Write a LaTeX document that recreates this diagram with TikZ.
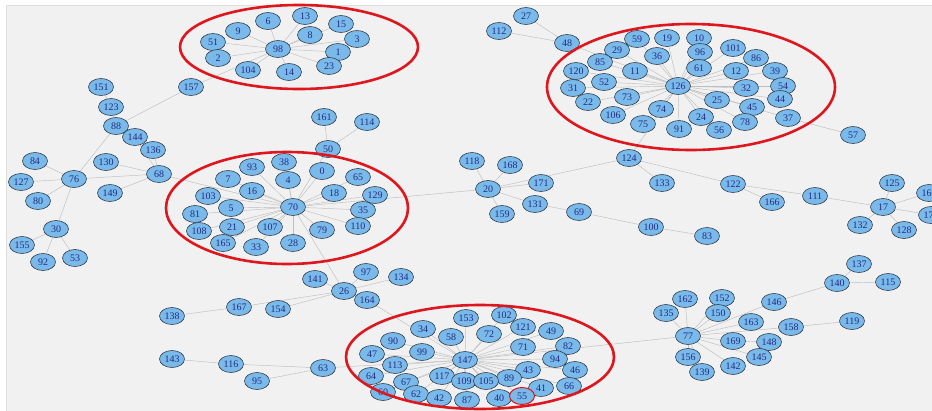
\documentclass[tikz,border=0pt]{standalone}
\usepackage{fontspec}
\setmainfont{Liberation Serif}
\usepackage{xcolor}
\usepackage{tikz}
\usetikzlibrary{shapes.geometric, backgrounds}
\definecolor{nodeblue}{RGB}{122,186,234}
\definecolor{nodetext}{RGB}{34,44,130}
\definecolor{nodeline}{RGB}{50,62,78}
\definecolor{edgegray}{RGB}{190,190,190}
\definecolor{ringred}{RGB}{222,22,30}
\definecolor{canvas}{RGB}{241,241,241}
\tikzstyle{vertex} = [ellipse, minimum width=25pt, minimum height=17pt, inner sep=0pt, draw=nodeline, line width=0.6pt, fill=nodeblue, text=nodetext, font=\fontsize{10}{11}\selectfont]
\tikzstyle{edge} = [edgegray, line width=0.45pt]
\tikzstyle{ring} = [ringred, line width=2.6pt]

\begin{document}
\begin{tikzpicture}[x=1pt, y=-1pt]
\useasboundingbox (0,0) rectangle (932,410);
% nodes, pixel positions
\foreach \n/\x/\y in {
13/305/16, 6/268/21, 15/341/24, 9/238/31, 8/310/35, 3/357/39, 51/213/42, 98/278/49,
1/338/52, 2/218/58, 23/329/66, 104/248/70, 14/289/72, 157/191/87,
151/101/87, 123/111/107, 88/116/126, 144/135/137, 136/153/150, 84/35/161, 130/106/162,
68/159/174, 76/74/179, 127/21/182, 149/110/193, 80/38/201, 30/56/229, 155/22/245,
53/75/258, 92/43/262}
  \node[vertex] (v\n) at (\x,\y) {\n};
\foreach \n/\x/\y in {
161/324/117, 114/367/122, 50/328/149, 93/252/167, 38/284/162, 0/322/171, 65/358/177,
7/228/179, 4/288/180, 16/252/191, 18/334/193, 129/375/195, 103/208/196, 70/293/207,
5/231/208, 35/363/210, 81/195/214, 21/232/227, 107/270/227, 110/358/226, 79/322/230,
108/199/231, 165/223/243, 33/256/247, 28/293/243,
97/366/272, 141/315/279, 134/401/277, 26/344/291, 164/367/300, 167/239/307, 154/278/309,
138/172/316, 143/172/359, 116/231/364, 63/323/368, 95/257/381}
  \node[vertex] (v\n) at (\x,\y) {\n};
\foreach \n/\x/\y in {
153/466/318, 102/504/315, 121/523/327, 72/489/334, 49/551/331, 34/423/329, 58/451/337,
90/393/341, 82/568/346, 71/523/347, 99/422/352, 47/372/354, 147/465/360, 94/555/359,
113/395/365, 43/528/370, 46/575/370, 64/371/376, 117/442/376, 89/509/378, 109/464/381,
105/486/381, 67/406/382, 66/569/386, 41/541/388, 60/383/392, 62/416/394, 42/439/398,
87/467/400, 40/499/398}
  \node[vertex] (v\n) at (\x,\y) {\n};
\node[vertex, draw=ringred, line width=1pt] (v55) at (522,396) {55};
\foreach \n/\x/\y in {
27/526/16, 112/499/31, 48/567/43, 59/637/39, 19/667/38, 10/699/38, 29/617/50, 96/700/52,
101/733/48, 36/657/56, 86/756/58, 85/600/62, 61/699/68, 11/635/71, 12/736/71, 39/775/71,
120/576/71, 52/604/82, 126/678/86, 32/746/88, 54/783/86, 31/573/88, 73/627/97, 44/780/99,
25/717/100, 22/588/102, 45/752/107, 74/661/109, 106/613/115, 24/701/117, 37/788/118,
78/745/122, 75/643/124, 91/679/129, 56/719/130, 57/853/135}
  \node[vertex] (v\n) at (\x,\y) {\n};
\foreach \n/\x/\y in {
118/472/161, 168/510/165, 124/629/158, 20/488/189, 171/541/183, 133/662/183, 122/733/184,
166/772/202, 111/815/196, 125/892/183, 160/929/193, 17/883/207, 170/931/215, 132/860/225,
128/904/230, 131/535/204, 159/502/214, 69/579/212, 100/651/227, 83/707/236,
137/859/264, 140/837/283, 115/888/282, 162/685/299, 152/722/298, 146/774/302, 135/666/313,
150/718/313, 119/852/321, 163/751/322, 158/791/327, 77/688/336, 169/733/341, 148/769/342,
156/688/357, 145/759/357, 142/733/366, 139/702/372}
  \node[vertex] (v\n) at (\x,\y) {\n};

\begin{scope}[on background layer]
\fill[white] (0,0) rectangle (932,410);
\filldraw[fill=canvas, draw=gray!25] (6,5) rectangle (933,411);
% links
\foreach \a/\b in {98/13, 98/6, 98/15, 98/9, 98/8, 98/3, 98/51, 98/1, 98/2, 98/23, 98/104,
  98/14, 98/157, 157/88, 88/123, 123/151, 88/76, 88/144, 144/68, 136/68, 76/84, 76/127,
  76/80, 76/68, 76/30, 68/130, 68/149, 68/70, 30/155, 30/92, 30/53}
  \draw[edge] (v\a) -- (v\b);
\foreach \b in {93, 38, 4, 0, 65, 18, 129, 35, 110, 79, 28, 107, 33, 165, 21, 108, 81, 5,
  103, 16, 7, 50, 26, 20}
  \draw[edge] (v70) -- (v\b);
\foreach \a/\b in {50/161, 50/114, 26/141, 26/97, 26/134, 26/167, 26/154, 26/164, 167/138,
  164/147, 63/116, 63/95, 63/147, 116/143, 20/118, 20/168, 20/171, 20/131, 20/159, 20/124,
  131/69, 69/100, 100/83, 124/133, 124/122, 124/126, 122/166, 122/111, 111/17, 17/125,
  17/160, 17/170, 17/132, 17/128, 48/27, 48/112, 48/126, 126/37, 37/57, 147/77}
  \draw[edge] (v\a) -- (v\b);
\foreach \b in {59, 19, 10, 96, 101, 36, 86, 29, 85, 61, 11, 12, 39, 120, 52, 32, 54, 31,
  73, 44, 25, 22, 45, 74, 106, 24, 78, 75, 91, 56}
  \draw[edge] (v126) -- (v\b);
\foreach \b in {34, 58, 153, 102, 121, 72, 49, 82, 90, 99, 47, 113, 71, 94, 43, 46, 64, 117,
  89, 109, 105, 67, 66, 41, 60, 62, 42, 87, 40, 55}
  \draw[edge] (v147) -- (v\b);
\foreach \b in {162, 135, 150, 152, 146, 163, 158, 169, 145, 142, 156, 139}
  \draw[edge] (v77) -- (v\b);
\foreach \a/\b in {146/140, 140/137, 140/115, 158/119, 169/148}
  \draw[edge] (v\a) -- (v\b);
\end{scope}

% communities
\draw[ring] (299,47) ellipse [x radius=119pt, y radius=42pt];
\draw[ring] (691,87) ellipse [x radius=144pt, y radius=63pt];
\draw[ring] (287,208) ellipse [x radius=121pt, y radius=56pt];
\draw[ring] (480,357) ellipse [x radius=134pt, y radius=52pt];
\end{tikzpicture}
\end{document}
